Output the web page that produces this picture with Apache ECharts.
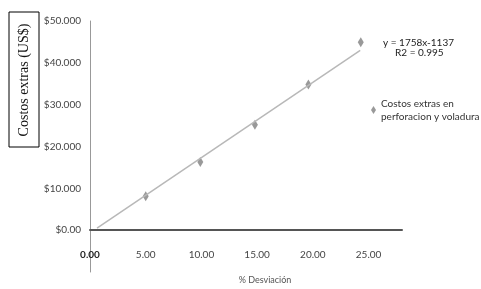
<!DOCTYPE html>
<html>
<head>
<meta charset="utf-8">
<script src="https://cdn.jsdelivr.net/npm/echarts@6/dist/echarts.min.js"></script>
<style>html,body{margin:0;padding:0;background:#fff}#c{width:481px;height:289px}</style>
</head>
<body>
<div id="c"></div>
<script>
// Data
const desviacion = [5.0, 9.9, 14.8, 19.6, 24.3];           // % Desviación
const costosExtras = [8100, 16300, 25200, 34800, 44900];   // US$
const trendX = [0.63, 24.25];
const trendY = [500, 43000];
const xTicks = [0, 5, 10, 15, 20, 25];
const yTicks = [0, 10000, 20000, 30000, 40000, 50000];
const seriesName = 'Costos extras en perforacion y voladura';
const equationText = 'y = 1758x-1137';
const r2Text = 'R2 = 0.995';

const chart = echarts.init(document.getElementById('c'), null, {renderer: 'canvas'});

function fmtY(v) {
  if (v < 0) return '';
  if (v === 0) return '$0.00';
  return '$' + String(v).replace(/\B(?=(\d{3})+(?!\d))/g, '.');
}

chart.setOption({
  animation: false,
  backgroundColor: '#fff',
  grid: {left: 90, right: 79, top: 21, bottom: 17, containLabel: false, outerBoundsMode: 'none'},
  xAxis: {
    type: 'value', min: 0, max: 28, interval: 5,
    axisLine: {show: true, onZero: true, lineStyle: {color: '#555', width: 2}},
    axisTick: {show: false},
    splitLine: {show: false},
    axisLabel: {
      margin: -22, fontFamily: 'Lato', fontSize: 10, color: '#444',
      formatter: v => xTicks.indexOf(v) < 0 ? '' : (v === 0 ? '{b|0.00}' : v.toFixed(2)),
      rich: {b: {fontFamily: 'Lato', fontSize: 10, fontWeight: 'bold', color: '#222'}}
    }
  },
  yAxis: {
    type: 'value', min: -10000, max: 50000, interval: 10000,
    axisLine: {show: true, onZero: false, lineStyle: {color: '#999', width: 1}},
    axisTick: {show: false},
    splitLine: {show: false},
    axisLabel: {
      margin: 9, fontFamily: 'Lato', fontSize: 10, color: '#444',
      formatter: v => yTicks.indexOf(v) < 0 ? '' : fmtY(v)
    }
  },
  legend: {
    data: [{name: seriesName, icon: 'diamond'}],
    left: 366, top: 92, orient: 'vertical',
    itemWidth: 5, itemHeight: 8,
    formatter: () => 'Costos extras en\nperforacion y voladura',
    textStyle: {fontFamily: 'Lato', fontSize: 10, color: '#333', lineHeight: 13}
  },
  series: [
    {
      name: 'trend', type: 'line',
      data: trendX.map((x, i) => [x, trendY[i]]),
      symbol: 'none', silent: true,
      lineStyle: {color: '#b8b8b8', width: 1.5}
    },
    {
      name: seriesName, type: 'scatter',
      data: desviacion.map((x, i) => [x, costosExtras[i]]),
      symbol: 'diamond', symbolSize: [6, 10],
      itemStyle: {color: '#7f7f7f'}
    }
  ],
  graphic: [
    {type: 'rect', shape: {x: 9, y: 12, width: 30, height: 135},
     style: {fill: 'none', stroke: '#000', lineWidth: 1}},
    {type: 'text', x: 24, y: 80, rotation: Math.PI / 2,
     style: {text: 'Costos extras (US$)', font: '14px "Liberation Serif"', fill: '#111',
             align: 'center', verticalAlign: 'middle'}},
    {type: 'text', x: 383, y: 38,
     style: {text: equationText, font: '10px Lato', fill: '#222'}},
    {type: 'text', x: 395, y: 48,
     style: {text: r2Text, font: '10px Lato', fill: '#222'}},
    {type: 'text', x: 265, y: 280,
     style: {text: '% Desviación', font: '9px Lato', fill: '#555', align: 'center', verticalAlign: 'middle'}}
  ]
});
</script>
</body>
</html>
